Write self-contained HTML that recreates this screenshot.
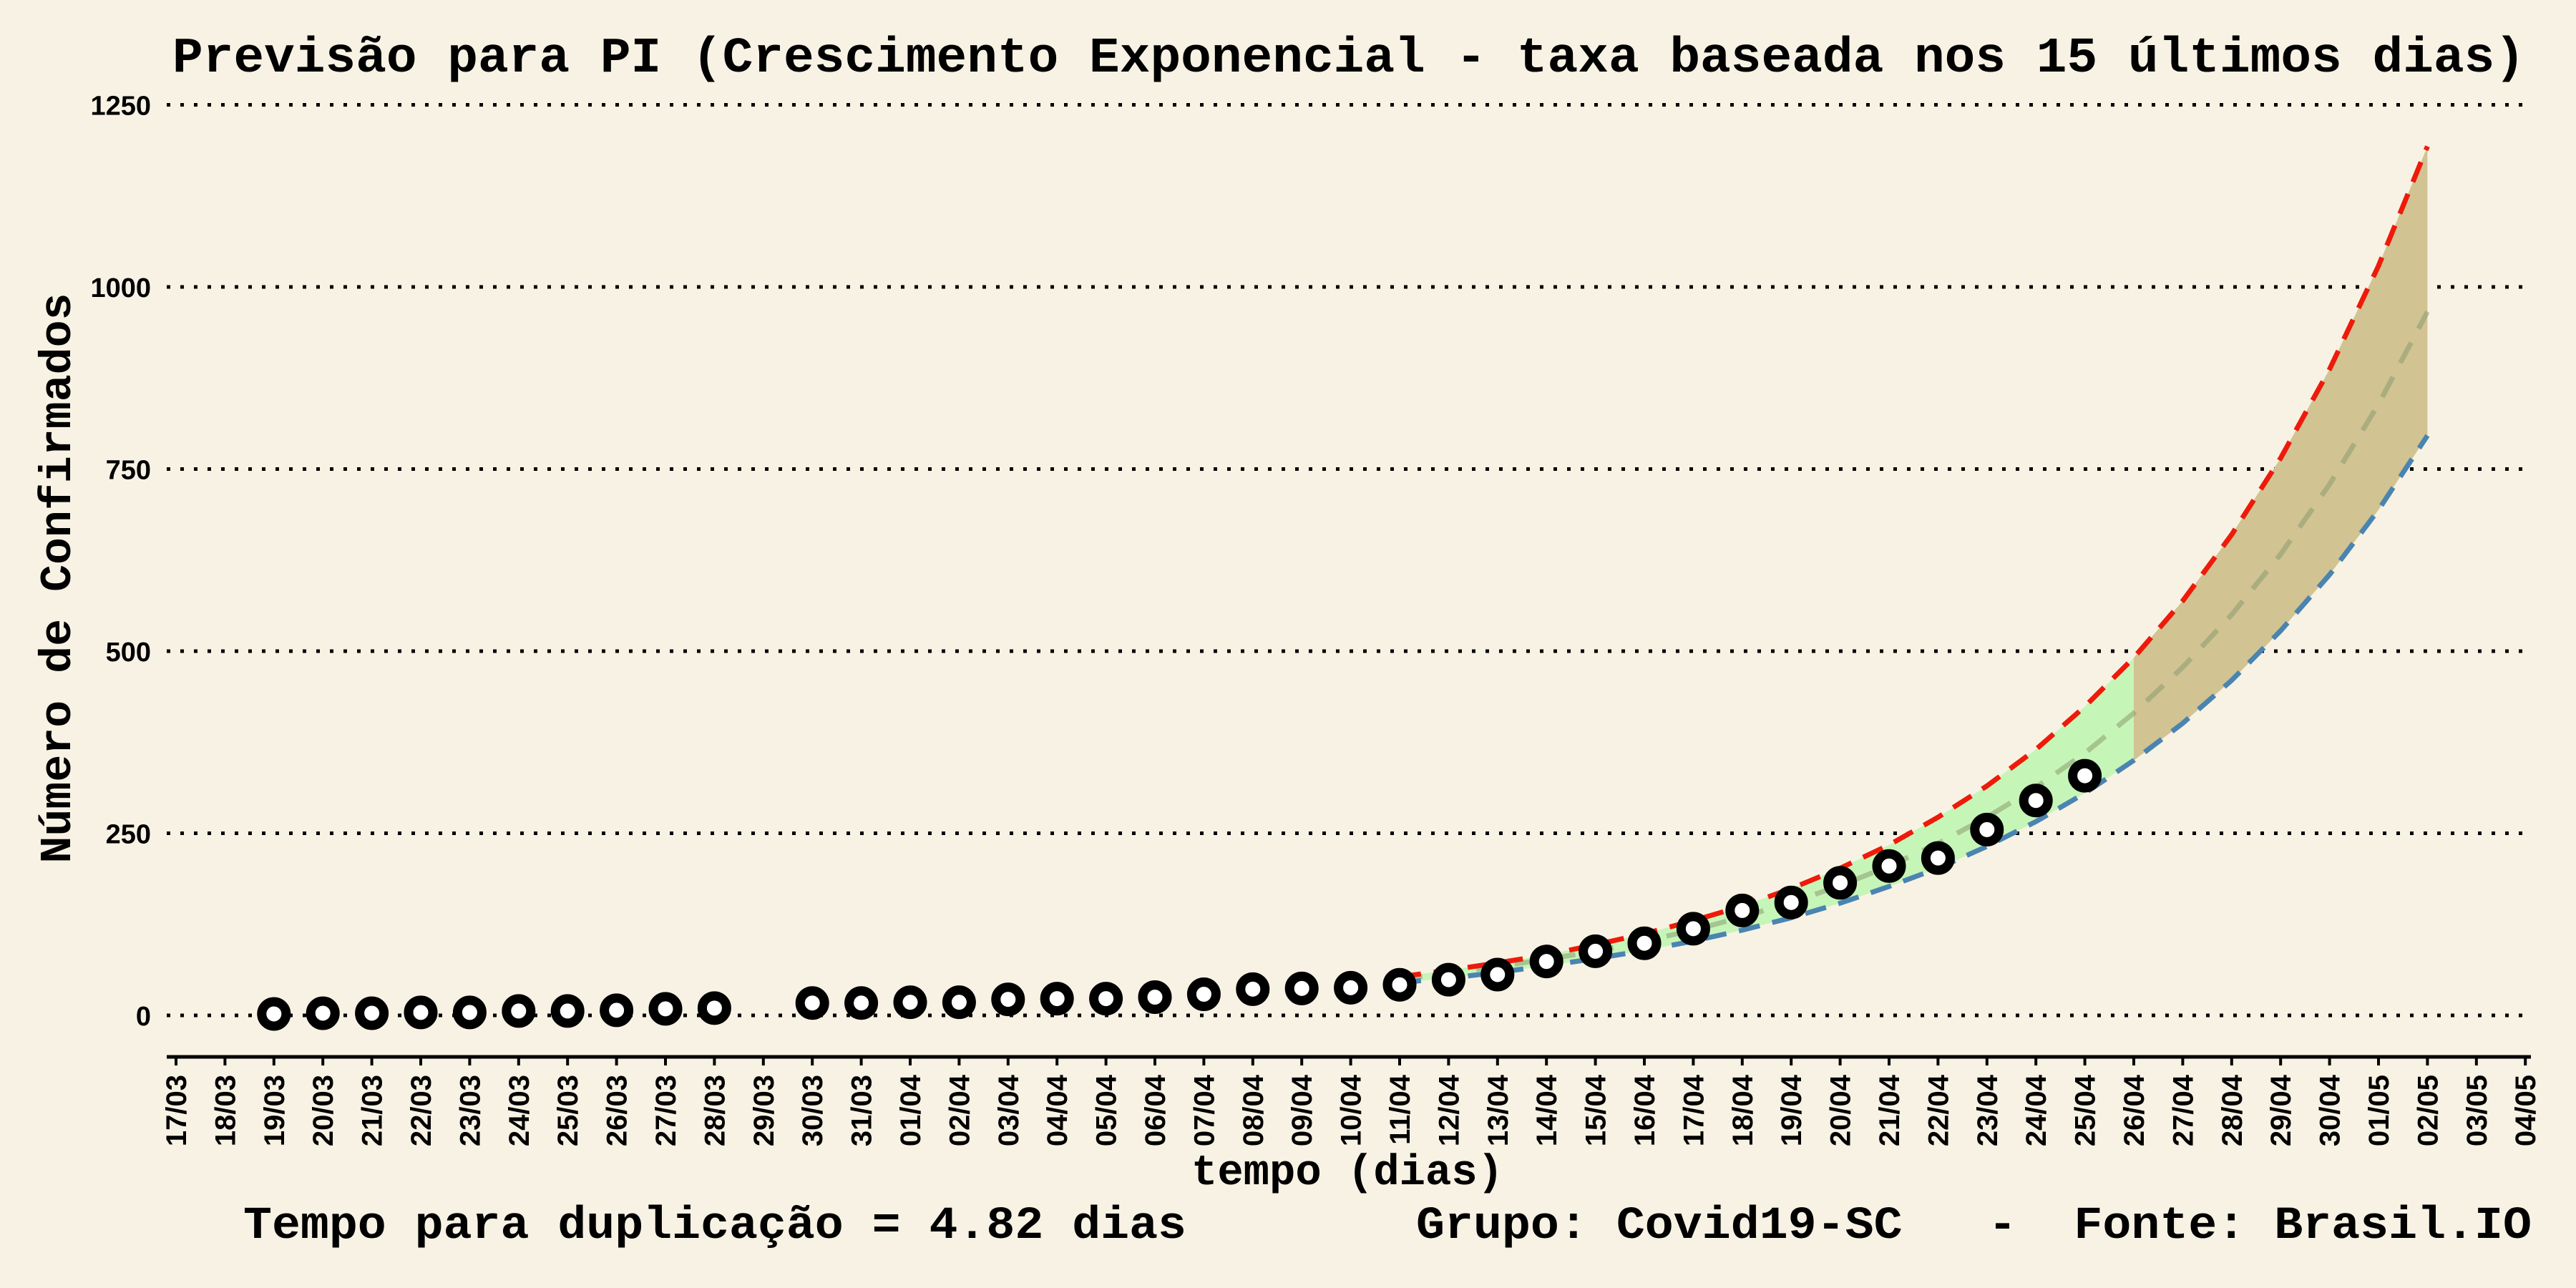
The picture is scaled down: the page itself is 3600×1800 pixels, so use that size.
<!DOCTYPE html>
<html><head><meta charset="utf-8"><style>
html,body{margin:0;padding:0;background:#f8f2e4;}
svg{display:block;}
</style></head><body>
<svg id="chart" width="3600" height="1800" viewBox="0 0 3600 1800" xmlns="http://www.w3.org/2000/svg">
<rect x="0" y="0" width="3600" height="1800" fill="#f8f2e4"/>
<text x="241" y="100" font-family="Liberation Mono, monospace" font-weight="bold" font-size="70" textLength="3288" lengthAdjust="spacingAndGlyphs">Previsão para PI (Crescimento Exponencial - taxa baseada nos 15 últimos dias)</text>
<g id="grid"></g>
<g id="bands"></g>
<g id="lines"></g>
<g id="points"></g>
<g id="axes"></g>
<text transform="translate(98,808) rotate(-90)" text-anchor="middle" font-family="Liberation Mono, monospace" font-weight="bold" font-size="62" textLength="797" lengthAdjust="spacingAndGlyphs">Número de Confirmados</text>
<text x="1883" y="1655" text-anchor="middle" font-family="Liberation Mono, monospace" font-weight="bold" font-size="60" textLength="436" lengthAdjust="spacingAndGlyphs">tempo (dias)</text>
<text x="340" y="1730" font-family="Liberation Mono, monospace" font-weight="bold" font-size="64" textLength="1318" lengthAdjust="spacingAndGlyphs">Tempo para duplicação = 4.82 dias</text>
<text x="1979" y="1730" font-family="Liberation Mono, monospace" font-weight="bold" font-size="64" textLength="1559" lengthAdjust="spacingAndGlyphs" xml:space="preserve">Grupo: Covid19-SC   -  Fonte: Brasil.IO</text>
</svg>
<script>
const dateLabels = ["17/03","18/03","19/03","20/03","21/03","22/03","23/03","24/03","25/03","26/03","27/03","28/03","29/03","30/03","31/03","01/04","02/04","03/04","04/04","05/04","06/04","07/04","08/04","09/04","10/04","11/04","12/04","13/04","14/04","15/04","16/04","17/04","18/04","19/04","20/04","21/04","22/04","23/04","24/04","25/04","26/04","27/04","28/04","29/04","30/04","01/05","02/05","03/05","04/05"];
const yTicks = [0,250,500,750,1000,1250];
const obsIdx = [2,3,4,5,6,7,8,9,10,11,13,14,15,16,17,18,19,20,21,22,23,24,25,26,27,28,29,30,31,32,33,34,35,36,37,38,39];
const obsVals = [2,3,3,4,4,6,6,7,9,10,17,17,18,18,22,23,23,25,29,36,37,38,42,49,56,74,88,99,119,144,155,182,205,216,255,295,329];
const fcStart = 25; // index of 11/04
const upperVals = [53,62,72,83,97,112,130,150,174,202,234,272,315,365,424,491,569,660,765,887,1029,1193];
const midVals = [50,58,67,77,88,102,117,135,155,178,205,236,272,313,360,415,478,550,633,729,839,966];
const lowerVals = [45,51,59,68,78,89,102,117,134,154,177,202,232,266,305,350,401,460,528,605,694,796];
const splitIdx = 40; // 26/04

const NS = "http://www.w3.org/2000/svg";
const X0 = 246, DX = 68.4, Y0 = 1419, YPX = 254.5/250;
const xs = i => X0 + i*DX;
const ys = v => Y0 - v*YPX;
function mk(tag, attrs, parent){ const e=document.createElementNS(NS,tag); for(const k in attrs) e.setAttribute(k,attrs[k]); parent.appendChild(e); return e; }

const grid=document.getElementById('grid');
yTicks.forEach(t=>{
  const l=mk('line',{x1:233,x2:3537,y1:ys(t),y2:ys(t),stroke:'#000','stroke-width':5,'stroke-dasharray':'5 14'},grid);
  
  
  const tx=mk('text',{x:211,y:ys(t)+14,'text-anchor':'end','font-family':'Liberation Sans, sans-serif','font-weight':'bold','font-size':38},grid);
  tx.textContent=t;
  
  
});

function bandPath(i0,i1){
  let d='';
  for(let i=i0;i<=i1;i++){ d+=(i===i0?'M':'L')+xs(fcStart+i)+','+ys(upperVals[i]); }
  for(let i=i1;i>=i0;i--){ d+='L'+xs(fcStart+i)+','+ys(lowerVals[i]); }
  return d+'Z';
}
const bands=document.getElementById('bands');
const sp=splitIdx-fcStart;
const g1=mk('path',{d:bandPath(0,sp),fill:'#c6f5b8'},bands);


const g2=mk('path',{d:bandPath(sp,upperVals.length-1),fill:'#d1c392'},bands);



const lines=document.getElementById('lines');
function linePath(arr){ return arr.map((v,i)=>(i?'L':'M')+xs(fcStart+i)+','+ys(v)).join(''); }
const lm=mk('path',{d:linePath(midVals),fill:'none',stroke:'#8a9a70','stroke-opacity':0.55,'stroke-width':7,'stroke-dasharray':'32 22'},lines);


const lu=mk('path',{d:linePath(upperVals),fill:'none',stroke:'#ee1a0a','stroke-width':7,'stroke-dasharray':'30 18'},lines);


const ll=mk('path',{d:linePath(lowerVals),fill:'none',stroke:'#4a84b0','stroke-width':7,'stroke-dasharray':'30 18'},lines);



const pts=document.getElementById('points');
obsIdx.forEach((idx,k)=>{
  const c=mk('circle',{cx:xs(idx),cy:ys(obsVals[k]),r:17,fill:'#fff',stroke:'#000','stroke-width':13},pts);
  
  
});

const axes=document.getElementById('axes');
const ax=mk('line',{x1:233,x2:3537,y1:1477,y2:1477,stroke:'#000','stroke-width':5},axes);


dateLabels.forEach((lab,i)=>{
  const t=mk('line',{x1:xs(i),x2:xs(i),y1:1477,y2:1489,stroke:'#000','stroke-width':4},axes);
  
  
  const tx=mk('text',{transform:'translate('+(xs(i)+14)+',1502) rotate(-90)','text-anchor':'end','font-family':'Liberation Sans, sans-serif','font-weight':'bold','font-size':40},axes);
  tx.textContent=lab;
  
  
});
</script>
</body></html>
